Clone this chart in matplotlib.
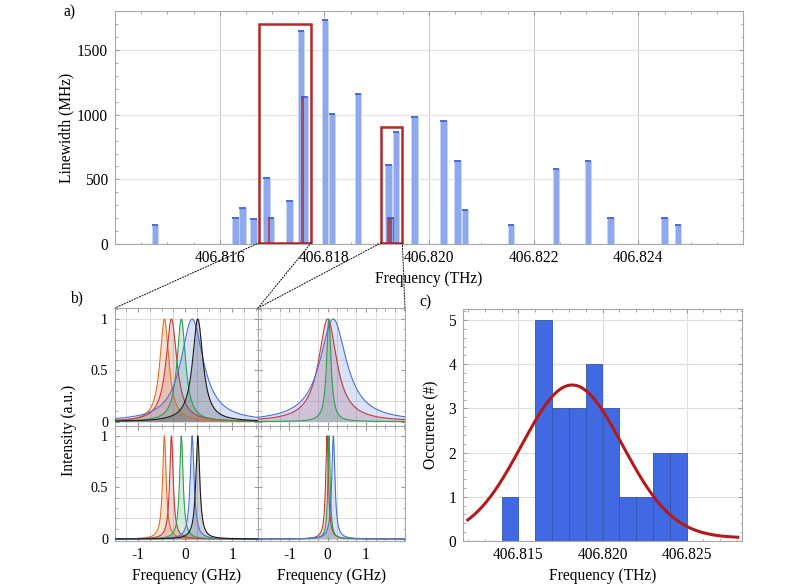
import matplotlib.pyplot as plt
import numpy as np
from matplotlib.patches import Rectangle, ConnectionPatch
from matplotlib.ticker import MultipleLocator, FixedLocator, FormatStrFormatter

plt.rcParams['font.family'] = ['Liberation Serif', 'DejaVu Serif']
plt.rcParams['font.size'] = 11.2
plt.rcParams['axes.unicode_minus'] = False

# --- data -------------------------------------------------------------------
# measured lines: centre frequency (THz) and linewidth (MHz)
freq = [406.81476, 406.81630, 406.81644, 406.81665, 406.81689, 406.81698,
        406.81733, 406.81755, 406.81762, 406.81801, 406.81815, 406.81864,
        406.81923, 406.81926, 406.81937, 406.81972, 406.82028, 406.82054,
        406.82069, 406.82157, 406.82243, 406.82304, 406.82347, 406.82450,
        406.82476]
linewidth = [150, 200, 275, 190, 510, 200, 330, 1645, 1136, 1730, 1005, 1160,
             615, 200, 865, 980, 955, 640, 260, 148, 583, 640, 200, 200, 148]

# zoom boxes in a): (f_start, f_stop, height)
boxes = [(406.81676, 406.81775, 1700), (406.81909, 406.81949, 903)]

# lorentzian profiles in b): centre (GHz), half width (GHz)
tl_centre = [-0.44, -0.29, -0.08, 0.15, 0.27]
tl_hwhm = [0.115, 0.14, 0.11, 0.29, 0.135]
bl_centre = [-0.44, -0.29, -0.08, 0.15, 0.27]
bl_hwhm = [0.045, 0.045, 0.045, 0.05, 0.05]
tl_colors = ['#de6f24', '#c23a3a', '#2e9e4f', '#4a70e0', '#1a1a1a']

tr_centre = [0.0, 0.03, 0.145]
tr_hwhm = [0.29, 0.07, 0.42]
br_centre = [-0.017, 0.035, 0.148]
br_hwhm = [0.043, 0.035, 0.05]
tr_colors = ['#c23a3a', '#2e9e4f', '#4a70e0']

# histogram bins (THz) and gaussian fit for c)
bin_edges = np.round(np.arange(406.814, 406.8255, 0.001), 4)
fit_mu, fit_sigma, fit_amp, fit_base = 406.81819, 0.0030, 3.46, 0.07

# --- layout -----------------------------------------------------------------
W, H = 797, 584
fig = plt.figure(figsize=(W / 100, H / 100), dpi=100)


def box(l, t, r, b):
    return [l / W, 1 - b / H, (r - l) / W, (b - t) / H]


def frame(ax):
    for s in ax.spines.values():
        s.set_color('#a8a8a8')
        s.set_linewidth(0.8)
    ax.tick_params(which='both', direction='in', top=True, right=True,
                   color='#999999')
    ax.tick_params(axis='x', pad=4)
    ax.tick_params(axis='y', pad=5)
    ax.tick_params(which='major', length=3)
    ax.tick_params(which='minor', length=1.8)


# --- a) ---------------------------------------------------------------------
ax = fig.add_axes(box(115, 11, 743, 244))
frame(ax)
bw = 0.000125
ax.bar(freq, linewidth, width=bw, color='#8ea8ee', edgecolor='#c9d5f6',
       linewidth=0.6, zorder=2)
ax.hlines(linewidth, np.array(freq) - bw / 2, np.array(freq) + bw / 2,
          color='#3c5fdc', lw=1.3, zorder=3)
# overlapping bars show up dark red
for i in range(len(freq) - 1):
    lo = freq[i + 1] - bw / 2
    hi = freq[i] + bw / 2
    if hi > lo:
        ax.bar(lo, min(linewidth[i], linewidth[i + 1]), width=hi - lo,
               align='edge', color='#a52a3a', alpha=0.75, lw=0, zorder=3)
for f0, f1, h in boxes:
    ax.add_patch(Rectangle((f0, 10), f1 - f0, h - 10, fill=False,
                           edgecolor='#b5262a', lw=1.8, zorder=4))
ax.set_xlim(406.814, 406.826)
ax.set_ylim(0, 1803)
ax.xaxis.set_major_locator(FixedLocator([406.816, 406.818, 406.820,
                                         406.822, 406.824]))
ax.xaxis.set_minor_locator(MultipleLocator(0.0005))
ax.xaxis.set_major_formatter(FormatStrFormatter('%.3f'))
ax.yaxis.set_major_locator(MultipleLocator(500))
ax.yaxis.set_minor_locator(MultipleLocator(100))
ax.grid(axis='x', color='#cccccc', lw=0.8, zorder=0)
ax.grid(axis='y', color='#e2e2e2', lw=0.8, zorder=0)
ax.set_xlabel('Frequency (THz)', labelpad=4)
ax.set_ylabel('Linewidth (MHz)', labelpad=2)
ax_a = ax

# --- b) ---------------------------------------------------------------------
panels = [
    (box(115, 308, 258, 426), tl_centre, tl_hwhm, tl_colors, (-1.49, 1.55), (-0.042, 1.107), True, False),
    (box(258, 308, 405, 426), tr_centre, tr_hwhm, tr_colors, (-1.82, 2.02), (-0.042, 1.107), False, False),
    (box(115, 426, 258, 541), bl_centre, bl_hwhm, tl_colors, (-1.49, 1.55), (-0.019, 1.094), True, True),
    (box(258, 426, 405, 541), br_centre, br_hwhm, tr_colors, (-1.82, 2.02), (-0.019, 1.094), False, True),
]
b_axes = []
for rect, cen, hw, cols, xl, yl, ylab, xlab in panels:
    ax = fig.add_axes(rect)
    frame(ax)
    ax.tick_params(axis='y', labelsize=10.2)
    x = np.linspace(xl[0], xl[1], 800)
    for c, g, col in zip(cen, hw, cols):
        y = 1 / (1 + ((x - c) / g) ** 2)
        ax.fill_between(x, 0, y, color=col, alpha=0.2, lw=0, zorder=2)
        ax.plot(x, y, color=col, lw=0.8, zorder=3)
    ax.set_xlim(*xl)
    ax.set_ylim(*yl)
    ax.xaxis.set_major_locator(FixedLocator([-1, 0, 1]))
    ax.xaxis.set_minor_locator(MultipleLocator(0.25))
    ax.yaxis.set_major_locator(FixedLocator([0, 0.5, 1]))
    ax.yaxis.set_minor_locator(MultipleLocator(0.1))
    for gx in np.arange(-1.75, 2.1, 0.5):
        ax.axvline(gx, color='#dcdcdc', lw=0.7, zorder=0)
    for gy in np.arange(0.2, 1.05, 0.2):
        ax.axhline(gy, color='#dcdcdc', lw=0.7, zorder=0)
    ax.set_xticklabels(['-1', '0', '1'] if xlab else [])
    ax.set_yticklabels(['0', '0.5', '1'] if ylab else [])
    if xlab:
        ax.set_xlabel('Frequency (GHz)', labelpad=4)
    b_axes.append(ax)

fig.text(69 / W, 1 - 430 / H, 'Intensity (a.u.)', rotation=90,
         ha='center', va='center')

# connectors from the boxes in a) to b)
links = [(boxes[0][0], b_axes[0], (0, 1)), (boxes[0][1], b_axes[0], (1, 1)),
         (boxes[1][0], b_axes[1], (0, 1)), (boxes[1][1], b_axes[1], (1, 1))]
for fx, bax, corner in links:
    con = ConnectionPatch(xyA=(fx, 10), coordsA=ax_a.transData,
                          xyB=corner, coordsB=bax.transAxes,
                          linestyle=(0, (1, 1.5)), color='#222222', lw=0.8)
    fig.add_artist(con)

# --- c) ---------------------------------------------------------------------
ax = fig.add_axes(box(463, 309, 742, 541))
frame(ax)
ax.hist(freq, bins=bin_edges, color='#4169e1', edgecolor='#3552b0',
        linewidth=0.6, zorder=2)
xf = np.linspace(406.81198, 406.82805, 400)
yf = fit_base + fit_amp * np.exp(-0.5 * ((xf - fit_mu) / fit_sigma) ** 2)
ax.plot(xf, yf, color='#b31b1b', lw=2.2, zorder=3)
ax.set_xlim(406.8117, 406.8283)
ax.set_ylim(0, 5.25)
ax.xaxis.set_major_locator(FixedLocator([406.815, 406.820, 406.825]))
ax.xaxis.set_minor_locator(MultipleLocator(0.001))
ax.xaxis.set_major_formatter(FormatStrFormatter('%.3f'))
ax.yaxis.set_major_locator(MultipleLocator(1))
ax.yaxis.set_minor_locator(MultipleLocator(0.2))
ax.grid(which='major', color='#dedede', lw=0.8, zorder=0)
ax.set_xlabel('Frequency (THz)', labelpad=4)
ax.set_ylabel('Occurence (#)', labelpad=6)

# panel letters
fig.text(70 / W, 1 - 12 / H, 'a)', ha='center', va='center')
fig.text(76 / W, 1 - 298 / H, 'b)', ha='center', va='center')
fig.text(425 / W, 1 - 302 / H, 'c)', ha='center', va='center')

fig.savefig('out.png', dpi=100)
